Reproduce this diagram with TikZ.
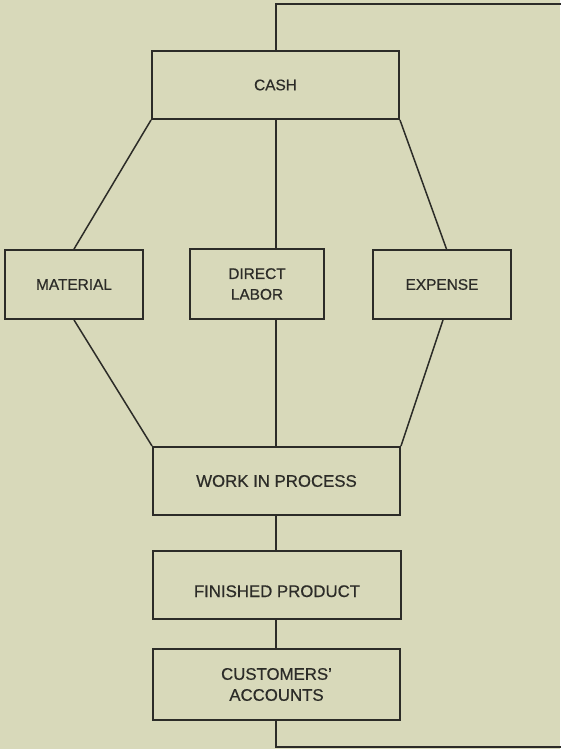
\documentclass[tikz,border=0pt]{standalone}
\usepackage{fontspec}
\setmainfont{Liberation Sans}
\newfontfamily\labelfont[FakeBold=0.6]{Liberation Sans}
\definecolor{paper}{RGB}{216,217,186}
\definecolor{ink}{RGB}{44,44,40}
\begin{document}
\begin{tikzpicture}[x=1pt,y=-1pt,
  acct/.style={draw=ink, line width=1.9pt, fill=paper, inner sep=0pt, text=ink, align=center},
  upper/.style={acct, font=\labelfont\fontsize{15.4}{20.7}\selectfont},
  lower/.style={acct, font=\labelfont\fontsize{16.8}{21}\selectfont},
  flow/.style={draw=ink, line width=1.5pt}]
\fill[paper] (0,0) rectangle (560,749);
\useasboundingbox (0,0) rectangle (560,749);
% nodes
\node[upper, minimum width=247pt, minimum height=68pt] (cash) at (275.5,85) {CASH};
\node[upper, minimum width=138pt, minimum height=69pt] (material) at (74,284.5) {MATERIAL};
\node[upper, minimum width=134pt, minimum height=70pt] (labor) at (257,284) {DIRECT\\LABOR};
\node[upper, minimum width=138pt, minimum height=69pt] (expense) at (442,284.5) {EXPENSE};
\node[lower, minimum width=247pt, minimum height=68pt] (wip) at (276.5,481) {WORK IN PROCESS};
\node[lower, minimum width=248pt, minimum height=68pt, text height=24pt, text depth=0pt] (fin) at (277,585) {FINISHED PRODUCT};
\node[lower, minimum width=247pt, minimum height=71pt] (cust) at (276.5,684.5) {CUSTOMERS’\\ACCOUNTS};
% free ends
\coordinate (t1) at (276,4);
\coordinate (t2) at (561,4);
\coordinate (b1) at (276,747);
\coordinate (b2) at (561,747);
% connectors
\draw[flow] (t2) -- (t1) -- (t1 |- cash.north);
\draw[flow] (t1 |- cash.south) -- (t1 |- labor.north);
\draw[flow] (t1 |- labor.south) -- (t1 |- wip.north);
\draw[flow] (cash.south west) -- (material.north);
\draw[flow] (material.south) -- (wip.north west);
\draw[flow] (cash.south east) -- ([xshift=4.5pt]expense.north);
\draw[flow] ([xshift=1pt]expense.south) -- (wip.north east);
\draw[flow] (t1 |- wip.south) -- (t1 |- fin.north);
\draw[flow] (t1 |- fin.south) -- (t1 |- cust.north);
\draw[flow] (t1 |- cust.south) -- (b1) -- (b2);
\end{tikzpicture}
\end{document}
